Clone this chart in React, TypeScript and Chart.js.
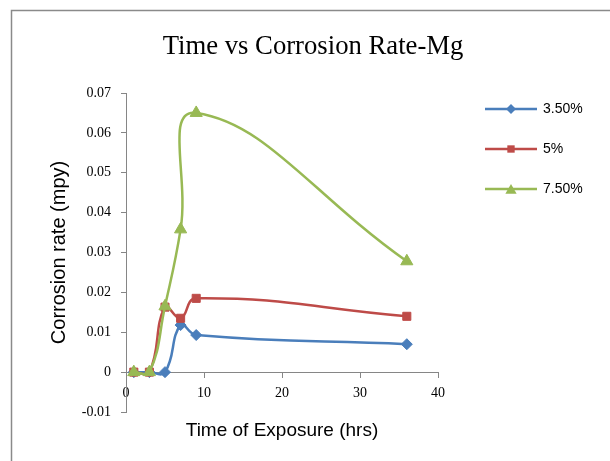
import React, { useEffect, useRef } from 'react';
import { Chart, registerables } from 'chart.js';

Chart.register(...registerables);

// ---- data ----
const xValues = [1, 3, 5, 7, 9, 36];
const seriesNames = ['3.50%', '5%', '7.50%'];
const rate35 = [0, 0, 0, 0.0118, 0.0093, 0.007];
const rate5 = [0, 0, 0.0163, 0.0135, 0.0185, 0.014];
const rate75 = [0, 0, 0.0165, 0.0358, 0.065, 0.0278];
const xTicks = [0, 10, 20, 30, 40];
const yTicks = [-0.01, 0, 0.01, 0.02, 0.03, 0.04, 0.05, 0.06, 0.07];

const chartTitle = 'Time vs Corrosion Rate-Mg';
const xTitle = 'Time of Exposure (hrs)';
const yTitle = 'Corrosion rate (mpy)';

// ---- styles ----
const COLORS = ['#4A7EBB', '#BE4B48', '#98B954'];
const STYLES = ['rectRot', 'rect', 'triangle'];
const RADII = [5.5, 5.7, 7];
const AXIS = '#868686';
const PADL = -40;
const PADR = 17.3;

function makeIcon(color: string, style: string, r: number): HTMLCanvasElement {
  const c = document.createElement('canvas');
  c.width = 74;
  c.height = 16;
  const g = c.getContext('2d')!;
  g.strokeStyle = color;
  g.fillStyle = color;
  g.lineWidth = 2.5;
  g.beginPath();
  g.moveTo(22, 8);
  g.lineTo(74, 8);
  g.stroke();
  const cx = 48, cy = 8;
  g.beginPath();
  if (style === 'rectRot') {
    g.moveTo(cx, cy - r);
    g.lineTo(cx + r, cy);
    g.lineTo(cx, cy + r);
    g.lineTo(cx - r, cy);
  } else if (style === 'rect') {
    const s = r * Math.SQRT1_2;
    g.rect(cx - s, cy - s, 2 * s, 2 * s);
  } else {
    for (let k = 0; k < 3; k++) {
      const a = (k * 2 * Math.PI) / 3;
      const px = cx + Math.sin(a) * r;
      const py = cy + 1.5 - Math.cos(a) * r;
      if (k === 0) g.moveTo(px, py);
      else g.lineTo(px, py);
    }
  }
  g.closePath();
  g.fill();
  return c;
}

const framePlugin = {
  id: 'frameAndTitle',
  beforeDraw(chart: any) {
    const ctx = chart.ctx;
    ctx.save();
    ctx.fillStyle = '#ffffff';
    ctx.fillRect(0, 0, chart.width, chart.height);
    ctx.strokeStyle = '#8a8a8a';
    ctx.lineWidth = 1.5;
    ctx.beginPath();
    ctx.moveTo(11.5, chart.height);
    ctx.lineTo(11.5, 10.5);
    ctx.lineTo(chart.width, 10.5);
    ctx.stroke();
    ctx.fillStyle = '#000000';
    ctx.font = '26.7px "Liberation Serif"';
    ctx.textAlign = 'center';
    ctx.textBaseline = 'middle';
    ctx.fillText(chartTitle, 313, 46.6);
    ctx.restore();
  },
};

export default function App() {
  const ref = useRef<HTMLCanvasElement | null>(null);

  useEffect(() => {
    if (!ref.current) return;
    const seriesData = [rate35, rate5, rate75];
    const icons = seriesNames.map((_, i) => makeIcon(COLORS[i], STYLES[i], RADII[i] - 0.5));

    const datasets = seriesNames.map((name, i) => ({
      label: name,
      data: xValues.map((x, j) => ({ x, y: seriesData[i][j] })),
      borderColor: COLORS[i],
      backgroundColor: COLORS[i],
      borderWidth: 2.5,
      pointStyle: STYLES[i],
      pointRadius: RADII[i],
      pointHoverRadius: RADII[i],
      pointBorderWidth: 1,
      pointBorderColor: COLORS[i],
      pointBackgroundColor: COLORS[i],
      tension: 0.45,
      fill: false,
      order: 3 - i,
    }));

    const chart = new Chart(ref.current, {
      type: 'line',
      data: { datasets },
      plugins: [framePlugin],
      options: {
        animation: false,
        responsive: false,
        devicePixelRatio: 1,
        events: [],
        layout: { padding: { left: PADL, right: PADR, top: 93, bottom: 49 } },
        plugins: {
          title: { display: false },
          legend: {
            position: 'right',
            align: 'start',
            title: { display: true, text: '', font: { size: 12 }, padding: { top: -31.4, bottom: 0 } },
            labels: {
              usePointStyle: true,
              pointStyleWidth: 72,
              padding: 26,
              color: '#000',
              font: { family: 'Liberation Sans', size: 14 },
              generateLabels: () =>
                seriesNames.map((n, i) => ({
                  text: n,
                  fillStyle: COLORS[i],
                  strokeStyle: COLORS[i],
                  lineWidth: 0,
                  pointStyle: icons[i],
                  hidden: false,
                  datasetIndex: i,
                  fontColor: '#000',
                })),
            },
          },
          tooltip: { enabled: false },
        },
        scales: {
          x: {
            type: 'linear',
            position: { y: 0 } as any,
            min: 0,
            max: 40,
            afterBuildTicks: (s: any) => {
              s.ticks = xTicks.map((v) => ({ value: v }));
            },
            grid: { display: true, drawOnChartArea: false, drawTicks: true, tickLength: 5, color: AXIS },
            border: { display: true, color: AXIS, width: 1 },
            ticks: {
              color: '#000',
              font: { family: 'Liberation Serif', size: 14 },
              padding: 7.5,
              maxRotation: 0,
              autoSkip: false,
            },
            title: {
              display: true,
              text: xTitle,
              color: '#000',
              font: { family: 'Liberation Sans', size: 19 },
              padding: { top: 10, bottom: 0 },
            },
          },
          y: {
            type: 'linear',
            position: 'left',
            min: -0.01,
            max: 0.07,
            afterBuildTicks: (s: any) => {
              s.ticks = yTicks.map((v) => ({ value: v }));
            },
            afterFit: (s: any) => {
              s.width = 126 - PADL;
            },
            grid: { display: true, drawOnChartArea: false, drawTicks: true, tickLength: 5, color: AXIS },
            border: { display: true, color: AXIS, width: 1 },
            ticks: {
              color: '#000',
              font: { family: 'Liberation Serif', size: 14 },
              padding: 10,
              callback: (v: any) => (Math.abs(Number(v)) < 1e-9 ? '0' : Number(v).toFixed(2)),
            },
            title: {
              display: true,
              text: yTitle,
              color: '#000',
              font: { family: 'Liberation Sans', size: 20 },
              padding: { top: 59.5 - 12 - PADL, bottom: 0 },
            },
          },
        },
      } as any,
    });
    return () => chart.destroy();
  }, []);

  return (
    <div style={{ position: 'absolute', left: 0, top: 0, width: 610, height: 461 }}>
      <canvas ref={ref} width={610} height={461} style={{ display: 'block' }} />
    </div>
  );
}
